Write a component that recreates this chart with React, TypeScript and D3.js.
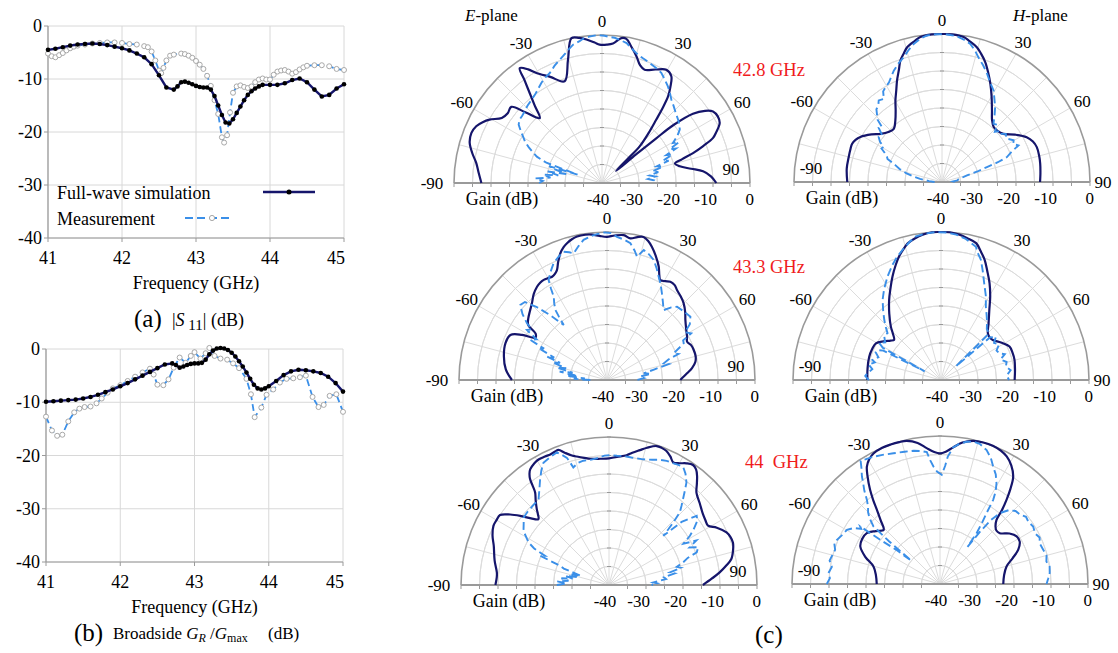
import React from "react";
import * as d3 from "d3";

type Pt = [number, number];

// ---------- (a) |S11| vs frequency ----------
const s11Sim: Pt[] = [
  [41.0, -4.5], [41.1, -4.3], [41.2, -4.0], [41.3, -3.7], [41.4, -3.5], [41.5, -3.4], [41.6, -3.3],
  [41.7, -3.4], [41.8, -3.6], [41.9, -3.9], [42.0, -4.2], [42.1, -4.6], [42.2, -5.2], [42.3, -5.9],
  [42.4, -7.2], [42.5, -9.3], [42.6, -11.6], [42.7, -12.0], [42.75, -11.4], [42.8, -10.6], [42.85, -10.5],
  [42.9, -10.7], [42.95, -11.0], [43.0, -11.3], [43.05, -11.5], [43.1, -11.6], [43.15, -11.6], [43.2, -12.0],
  [43.25, -13.2], [43.3, -15.0], [43.35, -16.8], [43.4, -18.2], [43.45, -18.4], [43.5, -17.6], [43.55, -16.4],
  [43.6, -15.2], [43.65, -14.0], [43.7, -13.0], [43.75, -12.3], [43.8, -11.8], [43.85, -11.4], [43.9, -11.1],
  [44.0, -11.1], [44.1, -11.1], [44.2, -10.8], [44.3, -10.2], [44.4, -9.9], [44.5, -10.6], [44.6, -12.0],
  [44.7, -13.3], [44.8, -13.0], [44.9, -11.8], [45.0, -11.0],
];
const s11Meas: Pt[] = [
  [41.0, -5.2], [41.05, -5.7], [41.1, -5.9], [41.15, -5.5], [41.2, -5.1], [41.25, -4.6], [41.3, -4.2],
  [41.35, -3.9], [41.4, -3.7], [41.5, -3.5], [41.6, -3.3], [41.7, -3.2], [41.8, -3.1], [41.9, -3.1],
  [42.0, -3.2], [42.1, -3.4], [42.2, -3.5], [42.3, -3.8], [42.35, -4.0], [42.4, -4.8], [42.45, -6.5],
  [42.5, -8.4], [42.53, -8.9], [42.56, -7.9], [42.6, -6.5], [42.65, -5.6], [42.7, -5.4], [42.8, -5.2],
  [42.85, -5.3], [42.9, -5.6], [42.95, -6.0], [43.0, -6.6], [43.05, -7.3], [43.1, -8.1], [43.15, -9.4],
  [43.2, -11.3], [43.25, -14.0], [43.3, -16.6], [43.35, -21.0], [43.38, -22.0], [43.42, -20.6], [43.46, -16.3],
  [43.5, -12.6], [43.55, -11.4], [43.6, -11.2], [43.65, -11.5], [43.7, -11.7], [43.75, -11.4], [43.8, -10.6],
  [43.85, -10.1], [43.9, -9.9], [43.95, -10.1], [44.0, -10.1], [44.05, -9.2], [44.1, -8.6], [44.15, -8.4],
  [44.2, -8.3], [44.25, -8.6], [44.3, -9.0], [44.35, -8.7], [44.4, -8.2], [44.45, -7.8], [44.5, -7.5],
  [44.6, -7.4], [44.7, -7.4], [44.8, -7.6], [44.9, -8.1], [45.0, -8.3],
];

// ---------- (b) broadside gain vs frequency ----------
const gainSim: Pt[] = [
  [41.0, -9.9], [41.1, -9.8], [41.2, -9.7], [41.3, -9.6], [41.4, -9.5], [41.5, -9.3], [41.6, -9.0],
  [41.7, -8.6], [41.8, -8.1], [41.9, -7.6], [42.0, -7.0], [42.1, -6.4], [42.2, -5.7], [42.3, -5.0],
  [42.4, -4.3], [42.5, -3.6], [42.6, -2.9], [42.7, -2.7], [42.75, -3.0], [42.8, -3.5], [42.85, -3.3],
  [42.9, -3.0], [42.95, -2.8], [43.0, -2.7], [43.05, -2.7], [43.1, -2.6], [43.15, -2.0], [43.2, -1.0],
  [43.25, -0.3], [43.3, 0.1], [43.35, 0.2], [43.4, 0.1], [43.45, -0.2], [43.5, -0.7], [43.55, -1.4],
  [43.6, -2.3], [43.65, -3.3], [43.7, -4.4], [43.75, -5.6], [43.8, -6.7], [43.85, -7.4], [43.9, -7.6],
  [43.95, -7.4], [44.0, -7.0], [44.1, -6.0], [44.2, -4.9], [44.3, -4.2], [44.4, -3.9], [44.5, -4.0],
  [44.6, -4.2], [44.7, -4.5], [44.8, -5.2], [44.9, -6.4], [45.0, -8.0],
];
const gainMeas: Pt[] = [
  [41.0, -12.7], [41.08, -15.3], [41.15, -16.3], [41.22, -16.1], [41.3, -13.6], [41.38, -11.9],
  [41.45, -11.2], [41.52, -10.9], [41.6, -10.8], [41.68, -10.2], [41.75, -9.3], [41.83, -8.2],
  [41.9, -7.4], [42.0, -6.8], [42.1, -6.0], [42.2, -5.2], [42.3, -4.4], [42.4, -3.7], [42.45, -4.8],
  [42.5, -6.7], [42.58, -6.8], [42.65, -5.7], [42.72, -3.5], [42.8, -1.6], [42.88, -2.6], [42.95, -1.3],
  [43.0, -0.6], [43.08, -1.8], [43.15, -0.8], [43.2, 0.2], [43.27, -1.3], [43.35, -1.8], [43.44, -2.0],
  [43.52, -2.7], [43.6, -3.6], [43.7, -5.6], [43.76, -8.5], [43.81, -12.8], [43.9, -11.0], [43.97, -8.6],
  [44.06, -7.6], [44.15, -6.3], [44.24, -5.6], [44.33, -5.5], [44.42, -5.3], [44.5, -5.0], [44.59, -9.0],
  [44.67, -10.9], [44.74, -10.5], [44.82, -8.8], [44.91, -8.5], [45.0, -11.8],
];

const freqTicks = [41, 42, 43, 44, 45];
const dbTicks = [0, -10, -20, -30, -40];

// ---------- (c) radiation patterns: [angle deg, gain dB] ----------
const e428Sim: Pt[] = [
  [-90, -7.4], [-85, -6.5], [-81, -5.6], [-77, -4], [-73, -2.6], [-69, -2.2], [-65.7, -2.7], [-63, -3.8],
  [-60.6, -5.1], [-57, -7.7], [-53.5, -8.3], [-50, -8], [-47.3, -11.8], [-43.8, -15.7], [-41, -12.3],
  [-38.8, -8.8], [-37, -5.2], [-35.6, -1.8], [-33, -3.4], [-30.8, -5.4], [-26, -8.1], [-20.2, -10.7],
  [-15.4, -5.4], [-11.9, 0], [-9, -0.3], [-6.2, -1], [-3, -2], [-1, -2.6], [2, -2.6], [4.5, -2.2],
  [7.6, -0.5], [9.6, -0.5], [12, -2.2], [15.2, -4.5], [18, -6.6], [20.6, -7.3], [25.2, -6.1], [29.6, -4.8],
  [33, -5.6], [35.5, -8.2], [37.3, -10.5], [39, -14], [40.6, -17.5], [43, -21.5], [45.8, -25.8],
  [46.9, -30.5], [49.5, -35], [50, -28], [50.5, -21], [51, -15], [52.7, -9.1], [55, -6], [57.2, -4.3],
  [60.1, -3.9], [63, -4.3], [66, -6.2], [67.9, -7.6], [70, -11], [71.8, -14.1], [73.5, -17.5],
  [75.1, -19.6], [77.9, -18.5], [80.9, -15.6], [83.4, -12.5], [86.5, -10.5], [90, -9.1],
];
const e428Meas: Pt[] = [
  [-90, -23], [-88, -24], [-86, -22], [-84, -26], [-82, -24], [-80, -28], [-78, -25], [-76, -30],
  [-74, -27], [-72.3, -25], [-71, -33], [-70, -24], [-68, -21], [-66, -19.5], [-64, -18], [-62, -16.5],
  [-60, -15.5], [-58, -14.3], [-55, -12.5], [-52.4, -11.9], [-50, -11.8], [-47, -11.5], [-44, -11],
  [-40, -10.5], [-37, -10], [-34, -9.2], [-31, -8.3], [-28, -7.6], [-25.4, -7.1], [-22, -5.8], [-19, -4.8],
  [-17, -4.1], [-14, -2.8], [-11.8, -1.8], [-9, -1.2], [-7.5, -0.7], [-5, -0.3], [-2, 0], [1, -0.2],
  [3, -0.5], [5, -0.6], [7, -1], [10, -1.6], [12, -2.6], [14.8, -3.7], [18, -4.5], [21.7, -5.1],
  [25, -5.6], [28.3, -6.2], [31, -7.2], [34.3, -8.4], [37, -9.5], [39.8, -10.7], [43, -11.6], [46, -12.4],
  [50, -13.2], [53, -13.8], [55.5, -14.5], [58, -16], [60.6, -18], [62, -16.5], [63.5, -19.5], [65, -18],
  [66.5, -21], [68, -19.5], [70, -22.5], [71.5, -21], [73, -24.5], [75, -23], [77, -26], [79, -24.5],
  [81, -27], [83, -25.5], [85, -27.5], [87, -26], [90, -26.7],
];
const h428Sim: Pt[] = [
  [-90, -14.4], [-82, -14], [-75, -13.9], [-70, -13.7], [-66.9, -13.6], [-64, -14], [-61.1, -14.8],
  [-56, -17], [-51.9, -18.9], [-47, -20.2], [-42.2, -20.6], [-37.1, -19.1], [-33, -17], [-29.7, -14.6],
  [-26.5, -12.3], [-23.9, -10], [-21, -7.5], [-18.9, -5.3], [-16.5, -3.7], [-14.5, -2.4], [-11, -1.2],
  [-8.5, -0.4], [-4, 0], [0, 0], [4, 0], [8.5, -0.4], [11, -1.2], [14.5, -2.4], [17, -3.8], [19.9, -5.6],
  [23, -8], [26.2, -10.4], [30, -13.2], [34.9, -16.4], [39, -18.5], [43.2, -19.6], [47, -19.6],
  [51.9, -18.9], [57, -16.5], [62.1, -14.1], [66, -13.1], [69.8, -12.7], [75, -12.8], [79.4, -13],
  [85, -13.3], [90, -13.5],
];
const h428Meas: Pt[] = [
  [-90, -38], [-86, -36.5], [-82, -34], [-79, -32], [-76, -30], [-73, -28], [-70, -26.5], [-67, -24],
  [-65.6, -23.7], [-63, -22.6], [-61, -21.3], [-59, -21.6], [-57, -20], [-54.6, -19], [-52, -19.5],
  [-49.5, -17.5], [-47.5, -18], [-46, -15.8], [-44.3, -14.9], [-42, -13.5], [-40, -13.2], [-37.8, -12.1],
  [-35, -12.6], [-33, -10.8], [-30.8, -10.2], [-28, -9.5], [-25.5, -8.3], [-23.4, -7.2], [-20, -5.8],
  [-17, -4.7], [-14, -3.1], [-11.3, -1.8], [-8.5, -0.8], [-5.8, -0.2], [-2, 0], [2, -0.1], [5.8, -0.4],
  [8.5, -1], [11.6, -1.9], [14, -3.3], [16.3, -4.9], [19.5, -6.6], [22.6, -8.3], [26, -10.2],
  [29.4, -11.6], [32.5, -13.6], [35.4, -15.2], [38.5, -17.2], [41.5, -19], [44, -18.5], [46.5, -20.3],
  [48.5, -19.2], [50.4, -19.6], [53, -18.4], [56, -19], [59.8, -17.6], [62, -18.2], [64.4, -17.1],
  [66.5, -19.5], [69, -21.2], [70.5, -24], [71.6, -27.2], [73.5, -30], [75, -33], [78, -34.5],
  [81, -35.5], [83.7, -35.8], [87, -37], [90, -36.5],
];
const e433Sim: Pt[] = [
  [-90, -14.3], [-84, -12.5], [-77, -11.4], [-70, -10.8], [-65, -11.2], [-62, -14], [-59.5, -17.5],
  [-57, -17], [-55, -14], [-52, -13], [-48, -12], [-44.4, -11], [-40.5, -9.5], [-36.9, -8.5],
  [-34.5, -8.1], [-32.3, -8], [-30, -8.2], [-28, -8.4], [-26, -8], [-24.4, -7.3], [-22.5, -5.5],
  [-20.2, -3.5], [-18, -2.2], [-16.3, -1.5], [-14, -0.8], [-11.8, -0.4], [-8.5, -0.3], [-5.9, -0.5],
  [-3, -1], [0, -1.3], [3, -0.9], [6.6, -0.6], [9.4, -1.2], [12, -0.5], [14.3, -0.1], [16.5, -0.8],
  [18.6, -2], [21.5, -4], [24.5, -6.3], [26.5, -8.3], [28.1, -9.4], [30.5, -9], [32.8, -8.4],
  [35.5, -8.5], [37.9, -9.2], [41.5, -9.9], [45, -10.7], [49, -12], [52.5, -13.3], [57, -14.5],
  [61.6, -15.4], [64.4, -16], [67.5, -15.4], [70.9, -15.2], [75, -15.2], [78.3, -15.6], [82, -16.8],
  [85.2, -18.3], [90, -20.2],
];
const e433Meas: Pt[] = [
  [-90, -35.5], [-88, -31], [-86, -34], [-84, -29], [-82, -32], [-80, -27], [-78, -30.5], [-76, -26],
  [-74, -28.5], [-72, -24.5], [-70, -26.5], [-68.7, -22.6], [-67, -24.5], [-65, -19.5], [-63.5, -21],
  [-62.4, -16.6], [-60, -18], [-58, -14.5], [-56, -15.5], [-54.7, -13.5], [-52, -11], [-49.1, -9],
  [-46.5, -9.4], [-44, -12.5], [-41, -17], [-38.2, -21.1], [-37.2, -18.5], [-36.4, -16.5], [-34.5, -14.8],
  [-32.6, -13.3], [-31.5, -11], [-30.3, -8.7], [-27.5, -7], [-24.6, -5.3], [-21.5, -4.2], [-18.7, -3.4],
  [-16.5, -4], [-14.7, -4.6], [-12, -3], [-9.5, -1.6], [-6.5, -0.9], [-3.9, -0.5], [-1, -0.1],
  [1.5, -0.3], [4, -1.2], [7, -1.8], [9.7, -2.5], [12, -4.2], [13.7, -5.7], [15.8, -3.5], [18.5, -4.2],
  [21.3, -5.2], [24, -7], [26.6, -8.8], [29.5, -10.5], [32.4, -12.3], [35.5, -14], [39, -15.7],
  [41.5, -13.8], [43.7, -12.6], [48, -12.2], [52.8, -11.7], [56, -13], [58.5, -15.3], [61, -14],
  [62.5, -16.8], [64.4, -17], [66, -18.6], [68.2, -20.6], [70, -19.5], [71.5, -22.5], [73.6, -24],
  [75.5, -22.8], [77.5, -27], [79.7, -29.9], [82, -28], [84, -31], [87, -30], [90, -31.9],
];
const h433Sim: Pt[] = [
  [-90, -20.1], [-81, -19.9], [-72, -19.6], [-66, -19.6], [-60.6, -19.8], [-56, -21.3], [-52, -22.7],
  [-49.4, -23.3], [-46, -21.9], [-43.2, -20.2], [-38, -17.3], [-32.9, -14.2], [-29, -11.8],
  [-25.1, -9.1], [-21.5, -6.6], [-18.7, -4.7], [-16, -3.2], [-13.7, -2], [-10.5, -1.1], [-7.2, -0.4],
  [-3.5, 0], [0, 0], [3.5, 0], [7.2, -0.4], [10.5, -1], [14.4, -1.8], [17, -3.5], [19.9, -5.4],
  [23, -8], [26.6, -10.7], [30.5, -13.8], [34.6, -17], [40, -20], [45, -22.1], [48.5, -22.5],
  [52.3, -22.3], [58, -20.9], [64, -19.4], [69, -19.3], [74.7, -19.4], [82, -19.8], [90, -20.1],
];
const h433Meas: Pt[] = [
  [-90, -20.5], [-87, -19.5], [-84.8, -20], [-81, -21.2], [-78, -20], [-75, -21.5], [-73.7, -20.7],
  [-70, -22], [-67, -20.8], [-64.7, -21.1], [-63, -22.5], [-62, -35], [-61, -22], [-59, -20.5],
  [-56, -21.8], [-52, -20.5], [-48.8, -20.8], [-46, -19.2], [-43.4, -17.7], [-40, -15.7], [-36.1, -13.2],
  [-32, -11], [-27.3, -8.5], [-23, -6.3], [-19.5, -4.6], [-16.4, -3.3], [-13, -1.8], [-9.9, -0.6],
  [-6, -0.2], [-2, 0], [2, -0.1], [6, -0.5], [10, -1.3], [14.7, -2.8], [16.5, -4.5], [18.4, -5.8],
  [21, -8.5], [24.1, -11.4], [28, -14.2], [31.5, -16.8], [35, -18.5], [38.5, -20], [42, -21.5],
  [46, -21.9], [47.5, -34.5], [49, -22.5], [51.8, -21.1], [55, -22.5], [58.5, -21.6], [62, -23],
  [65.4, -22.7], [68, -21.4], [71, -23], [74.5, -21.6], [78.4, -22.1], [82, -21], [86, -22.2], [90, -21.6],
];
const e44Sim: Pt[] = [
  [-90, -9.3], [-86, -9.6], [-83.6, -9.5], [-78, -8.4], [-71.2, -7.1], [-67, -5.8], [-62.8, -4.9],
  [-60, -4.9], [-57.3, -5], [-54.5, -7.2], [-52.1, -9.6], [-49.5, -12.3], [-47, -13.9], [-45, -12.8],
  [-43.6, -11.7], [-41, -9.8], [-38.6, -8], [-37.5, -6], [-36.7, -4.3], [-35.5, -3], [-34.3, -2.2],
  [-31.5, -1.4], [-29.3, -1.1], [-26.5, -1.2], [-24.2, -1.3], [-22, -1.1], [-20.5, -1], [-18.5, -2.3],
  [-16, -3.6], [-14.1, -4.2], [-11, -5], [-8.5, -5.5], [-4, -5.8], [0, -5.8], [3.5, -5.3], [7.7, -4.6],
  [10, -3.7], [12.9, -2.6], [15.5, -1.5], [18.9, -0.3], [21, -0.3], [23.2, -0.6], [25.5, -1.5],
  [27.7, -2.6], [30, -2], [32.5, -1], [35, -0.4], [37, -0.9], [38.9, -2.1], [41, -3.8], [43.4, -5.6],
  [48, -7], [53, -8.2], [56, -8.6], [59.1, -8.8], [62, -7], [65.9, -5.2], [68.5, -4.7], [71.1, -4.6],
  [74, -5.1], [78, -6.2], [80.5, -7.8], [83.5, -9.9], [86.5, -12.2], [90, -14.6],
];
const e44Meas: Pt[] = [
  [-90, -25.9], [-88, -28.5], [-86, -26], [-84, -29], [-82, -27], [-80, -30], [-78, -28], [-76, -31],
  [-74, -29.5], [-72, -32], [-71.2, -30.8], [-70, -27], [-68.5, -25.8], [-67, -19.8], [-65.5, -21],
  [-64, -17.5], [-62.1, -15.4], [-60.5, -14.5], [-58.5, -13.2], [-56.8, -12.4], [-54, -11.5],
  [-51.7, -10.6], [-48, -10.4], [-44, -10.3], [-41.5, -10.2], [-39.4, -10], [-36, -8], [-33.1, -5.9],
  [-30.5, -4], [-28.2, -2.5], [-25, -2], [-21.5, -1.5], [-20, -2.5], [-18.3, -3.8], [-17.5, -5.5],
  [-16.9, -6.8], [-14.5, -6], [-11.7, -5.7], [-8.5, -5.8], [-5.6, -5.6], [-2, -5], [1, -4.9], [3.5, -5],
  [6.3, -4.9], [10, -5], [15.2, -4.8], [19, -4.2], [22, -3.5], [24.9, -3], [28, -2.8], [30, -2.5],
  [32.3, -2.4], [34.5, -3.5], [37.1, -5.3], [39, -7.5], [40.8, -9.4], [42.5, -11], [44.3, -12.6],
  [45.8, -15.8], [46.8, -18], [47.8, -20.2], [49, -14], [51.7, -9.8], [54, -10.5], [56.5, -12.5],
  [58.7, -14.4], [61, -17], [63, -13.5], [65, -16], [67, -13.8], [69.6, -14.7], [71, -17.5], [73, -19],
  [75, -21], [76.5, -20], [78.3, -23.2], [80, -22], [82, -25], [84, -24.5], [86.6, -28], [88, -27],
  [90, -28.5],
];
const h44Sim: Pt[] = [
  [-90, -22.9], [-82, -22.5], [-75.2, -21.4], [-70, -18.5], [-64.8, -16.2], [-60, -15.7], [-55.2, -15.9],
  [-50.5, -17.5], [-46.2, -18.9], [-43, -16.5], [-40.4, -13.7], [-38.5, -11], [-36.6, -8.3], [-34, -5],
  [-31.9, -2.6], [-29.5, -1.2], [-27, -0.4], [-23, 0], [-19.5, 0], [-16, -0.1], [-13.1, -0.3],
  [-9, -1.4], [-5.6, -3.1], [-2.5, -4.3], [0, -4.7], [2.5, -4.2], [5.5, -2.9], [9, -1.3], [13.1, -0.3],
  [17, 0], [20.9, 0], [24.5, -0.4], [27.6, -1.1], [31, -2.6], [34.3, -4.9], [36.5, -8], [38.3, -11],
  [40, -14], [41.4, -16.9], [44, -18.4], [46.5, -19], [49.6, -18.8], [54, -16.8], [58.1, -15.6],
  [62, -15.6], [66.3, -16.9], [70.5, -19.2], [75.2, -21.4], [82, -22.5], [90, -22.9],
];
const h44Meas: Pt[] = [
  [-90, -9.4], [-87, -10.2], [-84.4, -9.7], [-81, -10.4], [-78, -9.5], [-75.7, -9.8], [-72, -10.2],
  [-69, -9.4], [-66.8, -9.7], [-63, -10.5], [-59.8, -10.9], [-57, -12.2], [-55, -14], [-54.2, -13.4],
  [-53.5, -19.9], [-52, -25], [-51, -30], [-50, -22], [-49.1, -16.2], [-47, -14], [-45, -12.5],
  [-43, -11.5], [-41, -9.9], [-39, -7.5], [-37, -5.4], [-36, -4.1], [-34, -2], [-32.8, -0.4], [-30, -0.9],
  [-27.6, -1.2], [-24, -1.8], [-19.6, -2.5], [-15, -3], [-11.1, -3.3], [-8, -3.7], [-5.7, -4.2],
  [-4.5, -6.5], [-3.2, -8.2], [-1.5, -9.6], [0.9, -10.5], [2.5, -8], [3.5, -5.5], [5.5, -2.9], [8, -1.7],
  [10.6, -0.9], [13, -0.5], [15.8, -0.6], [19.2, -1.7], [22, -3.3], [24.4, -5.2], [27, -6.8],
  [29.3, -8.8], [31, -10.8], [32.3, -13.1], [33.3, -17.1], [34.5, -20], [35.7, -23], [36.5, -27.5],
  [37.5, -22], [38.5, -18], [40.2, -14.9], [43, -12.7], [46, -11.6], [49.1, -11.4], [52, -10.5],
  [55, -10.8], [58.3, -10.4], [62, -10.9], [65, -10.3], [68, -10.9], [71.6, -10.6], [75, -10.2],
  [78, -10.6], [81, -10], [84.3, -10.2], [87, -10.7], [90, -11.2],
];

const angleLabels = [-60, -30, 0, 30, 60];
const gainLabels = [-40, -30, -20, -10, 0];
const freqNames = ["42.8 GHz", "43.3 GHz", "44  GHz"];

const SERIF = "'Liberation Serif', 'Times New Roman', Times, serif";
const NAVY = "#15156b";
const BLUE = "#3a8fe8";
const RED = "#f01c1c";

// every text element carries its own serif font
const T = ({ size = 18, style, children, ...rest }: any) => (
  <text {...rest} style={{ fontFamily: SERIF, fontSize: size + "px", whiteSpace: "pre", ...(style || {}) }}>
    {children}
  </text>
);

const FreqPanel = ({ left, right, top, bottom, sim, meas, label }: any) => {
  const x = d3.scaleLinear().domain([41, 45]).range([left, right]);
  const y = d3.scaleLinear().domain([-40, 0]).range([bottom, top]);
  const line = d3.line<Pt>().x((d) => x(d[0])).y((d) => y(d[1]));
  return (
    <g>
      {dbTicks.map((t) => (
        <line key={"h" + t} x1={left} x2={right} y1={y(t)} y2={y(t)} stroke="#d8d8d8" strokeWidth={1} />
      ))}
      {freqTicks.map((t) => (
        <line key={"v" + t} x1={x(t)} x2={x(t)} y1={top} y2={bottom} stroke="#d8d8d8" strokeWidth={1} />
      ))}
      <line x1={left} x2={left} y1={top} y2={bottom} stroke="#9a9a9a" strokeWidth={1.2} />
      <line x1={left} x2={right} y1={bottom} y2={bottom} stroke="#9a9a9a" strokeWidth={1.2} />
      {dbTicks.map((t) => (
        <g key={"yt" + t}>
          <line x1={left - 4} x2={left} y1={y(t)} y2={y(t)} stroke="#9a9a9a" />
          <T x={left - 6} y={y(t) + 6} textAnchor="end">{t}</T>
        </g>
      ))}
      {freqTicks.map((t, i) => (
        <g key={"xt" + t}>
          <line x1={x(t)} x2={x(t)} y1={bottom} y2={bottom + 4} stroke="#9a9a9a" />
          <T x={i === freqTicks.length - 1 ? x(t) + 1 : x(t)} y={bottom + 26}
            textAnchor={i === freqTicks.length - 1 ? "end" : "middle"}>{t}</T>
        </g>
      ))}
      <T x={(left + right) / 2} y={bottom + 51} textAnchor="middle">Frequency (GHz)</T>
      <path d={line(meas) || ""} fill="none" stroke={BLUE} strokeWidth={1.8} strokeDasharray="7,4" />
      {meas.map((d: Pt, i: number) => (
        <circle key={"m" + i} cx={x(d[0])} cy={y(d[1])} r={2.5} fill="#fff" stroke="#a8a8a8" strokeWidth={1} />
      ))}
      <path d={line(sim) || ""} fill="none" stroke={NAVY} strokeWidth={2.4} />
      {sim.map((d: Pt, i: number) => (
        <circle key={"s" + i} cx={x(d[0])} cy={y(d[1])} r={2.3} fill="#000" />
      ))}
      {label}
    </g>
  );
};

const Polar = ({ cx, cy, r, sim, meas, plane }: any) => {
  const rs = d3.scaleLinear().domain([-40, 0]).range([0, r]).clamp(true);
  const toRad = (a: number) => (a * Math.PI) / 180;
  const simLine = d3.lineRadial<Pt>().angle((d) => toRad(d[0])).radius((d) => rs(d[1]))
    .curve(d3.curveCatmullRom.alpha(0.5));
  const measLine = d3.lineRadial<Pt>().angle((d) => toRad(d[0])).radius((d) => rs(d[1]));
  const arc = d3.arc<any>().startAngle(-Math.PI / 2).endAngle(Math.PI / 2);
  const rings = d3.range(-35, 0, 5);
  const spokes = d3.range(-75, 90, 15);
  const labOff = 14;
  return (
    <g transform={`translate(${cx},${cy})`}>
      {rings.map((v) => (
        <path key={"r" + v} d={arc({ innerRadius: rs(v), outerRadius: rs(v) }) || ""} fill="none" stroke="#dcdcdc" strokeWidth={1} />
      ))}
      {spokes.map((a) => (
        <line key={"s" + a} x1={0} y1={0} x2={r * Math.sin(toRad(a))} y2={-r * Math.cos(toRad(a))} stroke="#dcdcdc" strokeWidth={1} />
      ))}
      {d3.range(-35, 5, 5).map((v) => (
        <g key={"t" + v}>
          <line x1={-2} x2={2} y1={-rs(v)} y2={-rs(v)} stroke="#999" />
          <line x1={rs(v)} x2={rs(v)} y1={0} y2={4} stroke="#999" />
          <line x1={-rs(v)} x2={-rs(v)} y1={0} y2={4} stroke="#999" />
        </g>
      ))}
      <path d={arc({ innerRadius: r, outerRadius: r }) || ""} fill="none" stroke="#9a9a9a" strokeWidth={1.6} />
      <line x1={-r} x2={r} y1={0} y2={0} stroke="#9a9a9a" strokeWidth={2} />
      <path d={simLine(sim) || ""} fill="none" stroke={NAVY} strokeWidth={2.2} />
      <path d={measLine(meas) || ""} fill="none" stroke={BLUE} strokeWidth={1.9} strokeDasharray="8,4" />
      {angleLabels.map((a) => (
        <T key={"a" + a} size={17} x={(r + labOff) * Math.sin(toRad(a))} y={-(r + labOff) * Math.cos(toRad(a)) + 6}
          textAnchor="middle">{a}</T>
      ))}
      {plane === "E" ? (
        <>
          <T size={17} x={-(r + 22)} y={6} textAnchor="middle">-90</T>
          <T size={17} x={129} y={-8} textAnchor="middle">90</T>
        </>
      ) : (
        <>
          <T size={17} x={-131} y={-8} textAnchor="middle">-90</T>
          <T size={17} x={r + 13} y={6} textAnchor="middle">90</T>
        </>
      )}
      {gainLabels.map((v) => (
        <T key={"g" + v} size={17} x={v === -40 ? -4 : rs(v) + 4} y={22} textAnchor={v === -40 ? "middle" : "end"}>{v}</T>
      ))}
      <T x={-100} y={22} textAnchor="middle">Gain (dB)</T>
    </g>
  );
};

const ePlots = [
  { cx: 602, cy: 183, sim: e428Sim, meas: e428Meas },
  { cx: 607, cy: 380, sim: e433Sim, meas: e433Meas },
  { cx: 609, cy: 585, sim: e44Sim, meas: e44Meas },
];
const hPlots = [
  { cx: 942, cy: 182, sim: h428Sim, meas: h428Meas },
  { cx: 941, cy: 380, sim: h433Sim, meas: h433Meas },
  { cx: 940, cy: 584, sim: h44Sim, meas: h44Meas },
];
const freqLabelY = [76, 273, 468];

export default function App() {
  return (
    <svg width={1118} height={653} style={{ position: "absolute", left: 0, top: 0, background: "#fff" }}>
      <FreqPanel left={48} right={344} top={26} bottom={238} sim={s11Sim} meas={s11Meas}
        label={
          <g>
            <T x={57} y={199}>Full-wave simulation</T>
            <line x1={263} x2={315} y1={192} y2={192} stroke={NAVY} strokeWidth={2.6} />
            <circle cx={289} cy={192} r={2.5} fill="#000" />
            <T x={57} y={225}>Measurement</T>
            <line x1={185} x2={233} y1={218} y2={218} stroke={BLUE} strokeWidth={1.8} strokeDasharray="8,4" />
            <circle cx={212} cy={218} r={2.6} fill="#fff" stroke="#a8a8a8" />
          </g>
        } />
      <T x={134} y={327} size={25}>(a)</T>
      <T x={172} y={326} size={18}>
        |<tspan fontStyle="italic">S</tspan><tspan dy={4} fontSize={15}> 11</tspan><tspan dy={-4}>| (dB)</tspan>
      </T>

      <FreqPanel left={46} right={343} top={349} bottom={562} sim={gainSim} meas={gainMeas} label={null} />
      <T x={74} y={641} size={25}>(b)</T>
      <T x={113} y={639} size={17}>
        Broadside <tspan fontStyle="italic">G</tspan><tspan fontStyle="italic" fontSize={12} dy={3}>R</tspan>
        <tspan dy={-3}> /</tspan><tspan fontStyle="italic">G</tspan><tspan fontSize={12} dy={3}>max</tspan>
      </T>
      <T x={268} y={639} size={17}>(dB)</T>

      {ePlots.map((p, i) => (
        <Polar key={"e" + i} {...p} r={148} plane="E" />
      ))}
      {hPlots.map((p, i) => (
        <Polar key={"h" + i} {...p} r={148} plane="H" />
      ))}
      <T x={465} y={21} size={17}><tspan fontStyle="italic">E</tspan>-plane</T>
      <T x={1013} y={21} size={17}><tspan fontStyle="italic">H</tspan>-plane</T>
      {freqNames.map((f, i) => (
        <T key={f} size={18.5} x={i === 2 ? 745 : 733} y={freqLabelY[i]} fill={RED}>{f}</T>
      ))}
      <T x={755} y={643} size={25}>(c)</T>
    </svg>
  );
}
